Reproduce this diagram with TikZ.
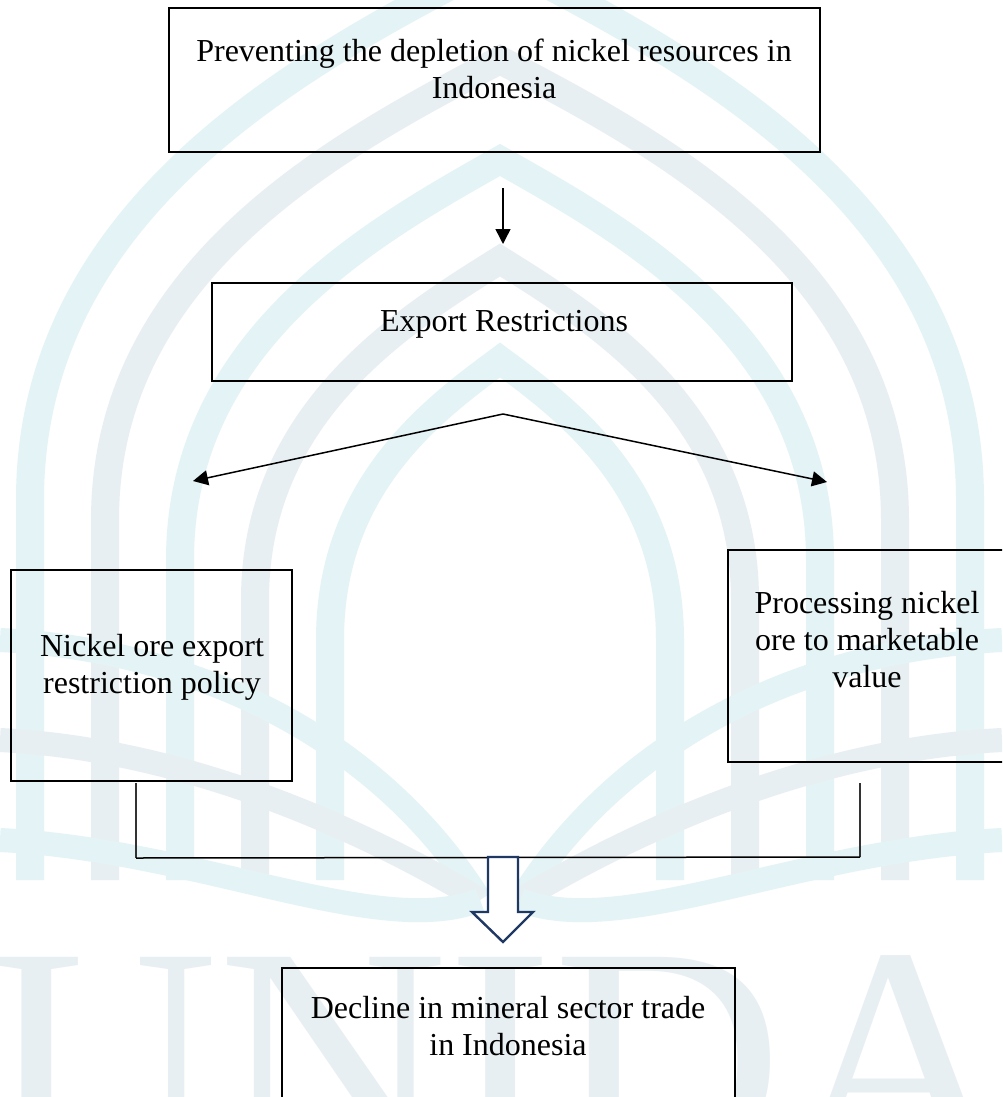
\documentclass[tikz,border=0pt]{standalone}
\usepackage{fontspec}
\setmainfont{Liberation Serif}
\usetikzlibrary{arrows.meta}
\definecolor{wmA}{HTML}{E4F3F5}
\definecolor{wmB}{HTML}{E8EFF2}
\definecolor{navy}{HTML}{1F3864}
\begin{document}
\begin{tikzpicture}[x=1pt,y=1pt,
  box/.style={draw=black, line width=2.6pt, rectangle, inner sep=0pt, outer sep=0pt},
  txt/.style={align=center, inner sep=0pt, font=\fontsize{32}{37}\selectfont},
  conn/.style={line width=1.5pt, -{Triangle[length=15pt,width=15pt]}},
  link/.style={line width=1.4pt, draw=black!80}]
\useasboundingbox (0,0) rectangle (1002,-1097);
\clip (0,0) rectangle (1002,-1097);
\fill[white] (0,0) rectangle (1002,-1097);
% --- faint watermark ---
\foreach \w/\ys/\yt/\c in {470/500/-40/wmA, 395/520/60/wmB, 320/560/160/wmA, 245/600/260/wmB, 170/640/360/wmA}{
  \draw[\c, line width=28pt]
    ({500-\w},-880) -- ({500-\w},{-\ys})
    .. controls ({500-\w},{-\ys+0.55*(\ys-\yt)}) and ({500-0.4*\w},{-\yt-0.18*(\ys-\yt)}) .. (500,{-\yt})
    .. controls ({500+0.4*\w},{-\yt-0.18*(\ys-\yt)}) and ({500+\w},{-\ys+0.55*(\ys-\yt)}) .. ({500+\w},{-\ys})
    -- ({500+\w},-880);
}
\foreach \e/\c in {650/wmA, 750/wmB, 850/wmA}{
  \draw[\c, line width=24pt] (480,-900) .. controls (380,{-\e-90}) and (200,{-\e}) .. (0,{-\e+10});
  \draw[\c, line width=24pt] (520,-900) .. controls (620,{-\e-90}) and (800,{-\e}) .. (1002,{-\e+10});
}
\node[text=wmB, anchor=base, inner sep=0pt, font=\fontsize{318}{318}\selectfont] (wm) at (501,-1165) {UNIDA};
% --- boxes ---
\node[box, minimum width=651pt, minimum height=144pt] (b1) at (494.5,-80) {};
\node[box, minimum width=580pt, minimum height=98pt] (b2) at (502,-332) {};
\node[box, minimum width=281pt, minimum height=211pt] (b3) at (151.5,-675.5) {};
\node[box, minimum width=282pt, minimum height=212pt] (b4) at (869,-656) {};
\node[box, minimum width=453pt, minimum height=150pt] (b5) at (508.5,-1043) {};
% --- texts ---
\node[txt] (t1) at (494,-68.5) {Preventing the depletion of nickel resources in\\Indonesia};
\node[txt] (t2) at (504,-324) {Export Restrictions};
\node[txt] (t3) at (152,-667) {Nickel ore export\\restriction policy};
\node[txt] (t4) at (867,-640) {Processing nickel\\ore to marketable\\value};
\node[txt] (t5) at (508,-1026) {Decline in mineral sector trade\\in Indonesia};
% --- connectors ---
\coordinate (a1s) at (503,-188);
\coordinate (a1e) at (503,-244);
\draw[conn] (a1s) -- (a1e);
\coordinate (sp) at (503,-414);
\coordinate (spL) at (193,-481);
\coordinate (spR) at (827,-482);
\draw[conn] (sp) -- (spL);
\draw[conn] (sp) -- (spR);
\coordinate (jL) at (136,-783);
\coordinate (jLb) at (136,-858);
\coordinate (jR) at (860,-783);
\coordinate (jRb) at (860,-857);
\draw[link] (jL) -- (jLb);
\draw[link] (jR) -- (jRb);
\draw[line width=1.5pt] (jLb) -- (jRb);
% --- block arrow ---
\draw[navy, line width=2.4pt, fill=white, line join=miter]
  (488,-857) -- (518,-857) -- (518,-912) -- (533,-912) -- (503,-942) -- (472,-912) -- (488,-912) -- cycle;
\end{tikzpicture}
\end{document}
